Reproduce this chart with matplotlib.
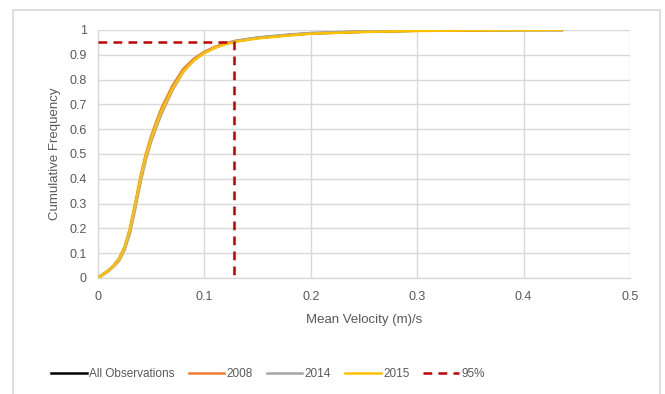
import matplotlib
matplotlib.use("Agg")
import matplotlib.pyplot as plt
from matplotlib.patches import Rectangle
from matplotlib.lines import Line2D

# Cumulative frequency of mean velocity, per data set
all_v = [0, 0.005, 0.01, 0.015, 0.02, 0.025, 0.03, 0.035, 0.04, 0.045, 0.05, 0.055, 0.06,
         0.07, 0.08, 0.09, 0.1, 0.11, 0.12, 0.13, 0.15, 0.18, 0.2, 0.25, 0.3, 0.35, 0.4, 0.436]
all_f = [0, 0.015, 0.03, 0.05, 0.075, 0.12, 0.19, 0.29, 0.40, 0.49, 0.56, 0.62, 0.675,
         0.765, 0.835, 0.88, 0.91, 0.93, 0.945, 0.955, 0.968, 0.98, 0.986, 0.993, 0.997, 0.999, 1.0, 1.0]

v2008 = [0, 0.005, 0.01, 0.015, 0.02, 0.025, 0.03, 0.035, 0.04, 0.045, 0.05, 0.055, 0.06,
         0.07, 0.08, 0.09, 0.1, 0.11, 0.12, 0.13, 0.15, 0.18, 0.2, 0.25, 0.3, 0.34]
f2008 = [0, 0.016, 0.031, 0.052, 0.08, 0.125, 0.2, 0.30, 0.41, 0.50, 0.572, 0.633, 0.688,
         0.775, 0.842, 0.884, 0.912, 0.932, 0.947, 0.957, 0.969, 0.981, 0.987, 0.994, 0.998, 1.0]

v2014 = [0, 0.005, 0.01, 0.015, 0.02, 0.025, 0.03, 0.035, 0.04, 0.045, 0.05, 0.055, 0.06,
         0.07, 0.08, 0.09, 0.1, 0.11, 0.12, 0.13, 0.15, 0.18, 0.2, 0.25, 0.3, 0.343]
f2014 = [0, 0.014, 0.028, 0.047, 0.07, 0.113, 0.18, 0.278, 0.385, 0.477, 0.55, 0.61, 0.664,
         0.757, 0.83, 0.877, 0.908, 0.929, 0.945, 0.956, 0.97, 0.982, 0.988, 0.995, 0.998, 1.0]

v2015 = [0, 0.005, 0.01, 0.015, 0.02, 0.025, 0.03, 0.035, 0.04, 0.045, 0.05, 0.055, 0.06,
         0.07, 0.08, 0.09, 0.1, 0.11, 0.12, 0.13, 0.15, 0.18, 0.2, 0.25, 0.3, 0.35, 0.4, 0.436]
f2015 = [0, 0.015, 0.03, 0.05, 0.076, 0.122, 0.195, 0.295, 0.402, 0.492, 0.562, 0.622, 0.676,
         0.764, 0.832, 0.877, 0.907, 0.928, 0.943, 0.953, 0.966, 0.978, 0.985, 0.992, 0.996, 0.998, 0.999, 1.0]

# 95th percentile velocity
p95_level = 0.95
p95_velocity = 0.128

x_ticks = [0, 0.1, 0.2, 0.3, 0.4, 0.5]
x_tick_labels = ["0", "0.1", "0.2", "0.3", "0.4", "0.5"]
y_ticks = [0, 0.1, 0.2, 0.3, 0.4, 0.5, 0.6, 0.7, 0.8, 0.9, 1]
y_tick_labels = ["0", "0.1", "0.2", "0.3", "0.4", "0.5", "0.6", "0.7", "0.8", "0.9", "1"]

plt.rcParams["font.family"] = ["Liberation Sans", "DejaVu Sans"]
text_color = "#595959"
grid_color = "#d9d9d9"

W, H = 665, 394
fig = plt.figure(figsize=(W / 100, H / 100), dpi=100)
ax = fig.add_axes([98 / W, 1 - 278 / H, (630 - 98) / W, (278 - 30) / H])

# chart frame
fig.patches.append(Rectangle((13 / W, -0.1), (660 - 13) / W, 1.1 - 10 / H,
                             transform=fig.transFigure, fill=False,
                             edgecolor=grid_color, linewidth=1.2))

ax.plot(all_v, all_f, color="#000000", lw=1.8, zorder=3)
ax.plot(v2008, f2008, color="#ed7d31", lw=1.8, zorder=4)
ax.plot(v2014, f2014, color="#a5a5a5", lw=1.8, zorder=5)
ax.plot(v2015, f2015, color="#ffc000", lw=1.8, zorder=6)
ax.plot([0, p95_velocity, p95_velocity], [p95_level, p95_level, 0],
        color="#c00000", lw=1.8, ls=(0, (3.5, 2.5)), zorder=7)

ax.set_xlim(0, 0.5)
ax.set_ylim(0, 1)
ax.set_xticks(x_ticks, x_tick_labels)
ax.set_yticks(y_ticks, y_tick_labels)
ax.tick_params(length=0, labelsize=9, colors=text_color, pad=8)
ax.tick_params(axis="x", pad=9)
ax.grid(True, color=grid_color, lw=1)
ax.set_axisbelow(True)
for s in ["top", "right"]:
    ax.spines[s].set_visible(False)
for s in ["left", "bottom"]:
    ax.spines[s].set_color(grid_color)
    ax.spines[s].set_linewidth(1)

ax.set_xlabel("Mean Velocity (m)/s", fontsize=9.5, color=text_color, labelpad=8)
ax.set_ylabel("Cumulative Frequency", fontsize=9.5, color=text_color, labelpad=6)

handles = [
    Line2D([], [], color="#000000", lw=1.8),
    Line2D([], [], color="#ed7d31", lw=1.8),
    Line2D([], [], color="#a5a5a5", lw=1.8),
    Line2D([], [], color="#ffc000", lw=1.8),
    Line2D([], [], color="#c00000", lw=1.8, ls=(0, (3.5, 2.5))),
]
labels = ["All Observations", "2008", "2014", "2015", "95%"]
leg = fig.legend(handles, labels, loc="center", bbox_to_anchor=(268 / W, 1 - 374 / H),
                 ncol=5, frameon=False, fontsize=8.5, handlelength=3.0, handletextpad=0.2,
                 columnspacing=1.2, labelcolor=text_color)

fig.savefig("out.png", dpi=100)
